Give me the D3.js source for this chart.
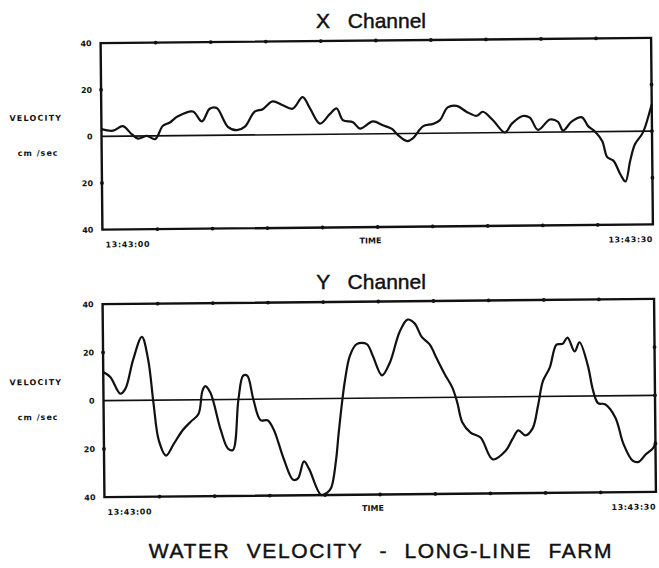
<!DOCTYPE html>
<html>
<head>
<meta charset="utf-8">
<script src="https://cdn.jsdelivr.net/npm/d3@7"></script>
<style>
  html, body { margin: 0; padding: 0; background: #fff; }
  svg { display: block; }
  .num { font-family: "DejaVu Sans", sans-serif; font-weight: bold; font-size: 8px; fill: #111; }
  .title { font-family: "Liberation Sans", Arial, sans-serif; font-size: 21px; fill: #111; stroke: #111; stroke-width: 0.45; }
</style>
</head>
<body>
<svg id="chart" width="659" height="568"></svg>
<script>
// Sample times (seconds after 13:43:00) and velocities (cm/sec)
const xTimes  = [0, 0.63, 1.17, 1.66, 1.99, 2.48, 2.92, 3.35, 3.73, 4.17, 4.99, 5.48, 5.91, 6.29, 6.89, 7.38, 7.82, 8.36, 8.80, 9.34, 9.89, 10.43, 10.98, 11.36, 11.91, 12.45, 12.83, 13.16, 13.71, 14.09, 14.80, 15.34, 15.83, 16.16, 16.65, 16.98, 17.52, 18.07, 18.45, 18.88, 19.37, 19.92, 20.46, 20.79, 21.34, 21.99, 22.37, 22.97, 23.35, 23.79, 24.44, 24.88, 25.15, 25.64, 26.19, 26.52, 26.90, 27.28, 27.55, 27.88, 28.26, 28.53, 28.80, 29.07, 29.51, 29.89, 30];
const xValues = [3.1, 2.4, 4.3, 0.7, -1.1, 0, -1.4, 4.3, 5.7, 8.3, 10.3, 6, 11.4, 11.7, 3.6, 2.1, 3.6, 10, 11, 14.3, 12.6, 11.1, 16, 11.4, 4.6, 8.6, 11, 6, 5, 2.3, 5.3, 3.6, 2, -0.7, -3.3, -2, 3, 4, 5.6, 11, 11.6, 9, 7.3, 9, 5.3, 0, 3.8, 7, 6.3, 1, 5.4, 4.4, 0.6, 4.5, 6.2, 2.4, 0, -4, -11, -12.5, -18.5, -21.5, -12.5, -5.5, -0.5, 8.5, 11.5];

const yTimes  = [0, 0.38, 0.92, 1.20, 1.63, 2.12, 2.45, 2.72, 2.99, 3.37, 3.80, 4.29, 4.73, 5.16, 5.38, 5.54, 5.82, 6.36, 6.74, 7.01, 7.34, 7.61, 7.83, 8.15, 8.53, 8.91, 9.24, 9.78, 10.27, 10.54, 10.87, 11.14, 11.79, 12.12, 12.34, 12.61, 12.77, 12.99, 13.15, 13.42, 13.80, 14.35, 14.67, 15.16, 15.60, 16.14, 16.58, 16.96, 17.34, 17.77, 18.15, 18.59, 18.97, 19.24, 19.51, 19.95, 20.49, 21.14, 21.85, 22.23, 22.55, 22.93, 23.32, 23.64, 23.91, 24.29, 24.67, 25.00, 25.27, 25.65, 25.92, 26.36, 26.63, 26.90, 27.28, 27.83, 28.26, 28.75, 29.08, 29.46, 29.89, 30];
const yValues = [11.9, 9.8, 2.8, 4.9, 16.8, 26.3, 16.8, -1.4, -16.8, -23, -18.2, -12.6, -9.1, -5.9, 3.5, 5.6, 2.8, -12.6, -20.3, -21, 0, 9.8, 9.8, 0, -8.7, -8.8, -12.6, -25, -33.5, -33, -26, -29, -40, -39, -37, -26, -14.7, -0.7, 7.7, 17.5, 22.4, 22.4, 17.5, 9.4, 14.7, 27.3, 32.4, 30.8, 25.2, 22, 16.1, 9.4, 4.2, -2.1, -10.5, -14.7, -16.8, -25.9, -22.4, -17.5, -14, -16.1, -13.3, -3.5, 6.3, 11.9, 21.4, 21.7, 24.3, 18.5, 22.3, 12.7, 2.4, -3, -3.5, -9, -20, -27, -27.5, -24.5, -21.7, -19];

// Axis labels: magnitudes only, as printed by the plotter
const velocityTicks  = [40, 20, 0, -20, -40];
const velocityLabels = ["40", "20", "0", "20", "40"];
const timeLabels     = ["13:43:00", "TIME", "13:43:30"];
const channelTitles  = ["X Channel", "Y Channel"];
const mainTitle      = "WATER VELOCITY - LONG-LINE FARM";

const svg = d3.select("#chart");

function drawPanel(box, title, times, values) {
  const cx = (box.left + box.right) / 2, cy = (box.top + box.bottom) / 2;
  const g = svg.append("g").attr("transform", `rotate(-0.55, ${cx}, ${cy})`);

  const x = d3.scaleLinear().domain([0, 30]).range([box.left, box.right]);
  const y = d3.scaleLinear().domain([-40, 40]).range([box.bottom, box.top]);

  // zero reference line
  g.append("line")
    .attr("x1", x(0)).attr("x2", x(30))
    .attr("y1", y(0)).attr("y2", y(0))
    .attr("stroke", "#111").attr("stroke-width", 1.6);

  // velocity trace
  const line = d3.line()
    .x((d, i) => x(times[i]))
    .y(d => y(d))
    .curve(d3.curveCatmullRom.alpha(0.5));
  g.append("path")
    .datum(values)
    .attr("d", line)
    .attr("fill", "none")
    .attr("stroke", "#111")
    .attr("stroke-width", 2.2)
    .attr("stroke-linejoin", "round");

  // frame
  g.append("rect")
    .attr("x", x(0)).attr("y", y(40))
    .attr("width", x(30) - x(0)).attr("height", y(-40) - y(40))
    .attr("fill", "none").attr("stroke", "#111").attr("stroke-width", 2.4);

  // tick dots along the frame
  const tx = d3.range(3, 30, 3);
  const dots = [];
  tx.forEach(t => { dots.push([x(t), y(40)]); dots.push([x(t), y(-40)]); });
  [20, 0, -20].forEach(v => { dots.push([x(30), y(v)]); if (v !== 0) dots.push([x(0), y(v)]); });
  g.selectAll("circle.tick").data(dots).join("circle")
    .attr("class", "tick")
    .attr("cx", d => d[0]).attr("cy", d => d[1]).attr("r", 1.9)
    .attr("fill", "#111");

  // velocity axis labels
  const axis = d3.axisLeft(y)
    .tickValues(velocityTicks)
    .tickFormat((d, i) => velocityLabels[i])
    .tickSize(0).tickPadding(9);
  const ag = g.append("g").attr("transform", `translate(${x(0)},0)`).call(axis);
  ag.select(".domain").remove();
  ag.selectAll("text").attr("class", "num").attr("font-size", null).attr("font-family", null);

  g.append("text").attr("class", "num")
    .attr("x", 36).attr("y", y(0) - 19).attr("dy", "0.35em")
    .attr("text-anchor", "middle").attr("letter-spacing", 1.2)
    .text("VELOCITY");
  g.append("text").attr("class", "num")
    .attr("x", 38).attr("y", y(0) + 16).attr("dy", "0.35em")
    .attr("text-anchor", "middle").attr("letter-spacing", 1)
    .text("cm /sec");

  // time labels
  const ty = y(-40) + 15;
  g.append("text").attr("class", "num").attr("font-size", 9)
    .attr("x", x(0) + 3).attr("y", ty).attr("dy", "0.35em")
    .attr("letter-spacing", 0.6).text(timeLabels[0]);
  g.append("text").attr("class", "num").attr("font-size", 8)
    .attr("x", x(14.6)).attr("y", ty - 1.5).attr("dy", "0.35em")
    .attr("text-anchor", "middle").text(timeLabels[1]);
  g.append("text").attr("class", "num").attr("font-size", 9)
    .attr("x", x(30)).attr("y", ty).attr("dy", "0.35em")
    .attr("text-anchor", "end").attr("letter-spacing", 0.6).text(timeLabels[2]);

  // panel title
  svg.append("text").attr("class", "title")
    .attr("x", 371).attr("y", box.top - 12.5)
    .attr("text-anchor", "middle").attr("word-spacing", 12)
    .text(title);
}

drawPanel({ left: 101.5, right: 652, top: 40.5, bottom: 227 }, channelTitles[0], xTimes, xValues);
drawPanel({ left: 103.5, right: 655, top: 301.5, bottom: 494.5 }, channelTitles[1], yTimes, yValues);

svg.append("text").attr("class", "title")
  .attr("x", 381).attr("y", 558)
  .attr("font-size", 26).attr("text-anchor", "middle")
  .attr("letter-spacing", 1.6).attr("word-spacing", 9)
  .text(mainTitle);
</script>
</body>
</html>
